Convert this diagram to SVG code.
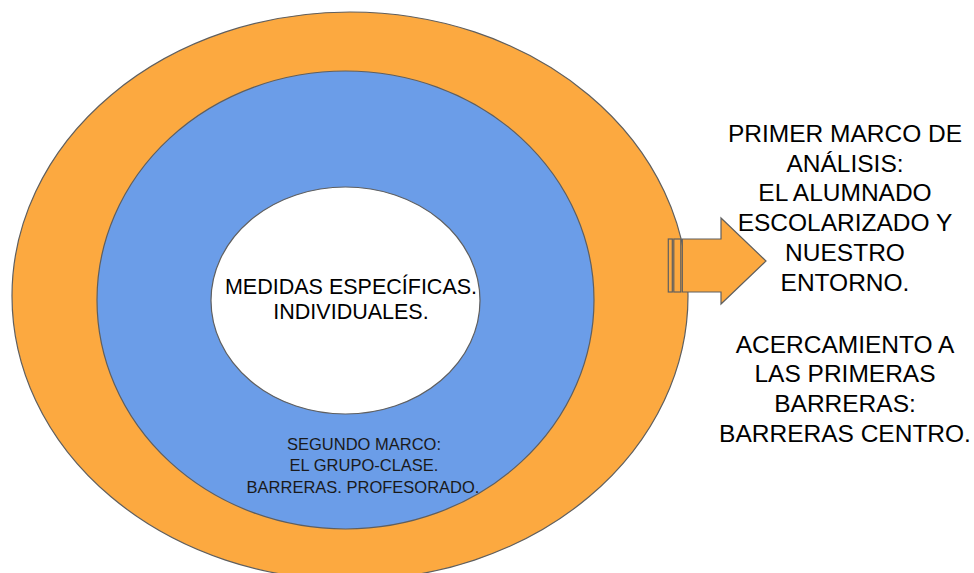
<svg xmlns="http://www.w3.org/2000/svg" width="974" height="573" viewBox="0 0 974 573">
<style>
.shape{stroke:#5f5f5f;stroke-width:1.2}
.orange{fill:#fca940}
.blue{fill:#6b9de8}
.white{fill:#ffffff}
text{font-family:"Liberation Sans",Arial,sans-serif;fill:#000;text-anchor:middle}
.t1{font-size:21.5px}
.t2{font-size:16.5px;fill:#1a1a1a}
.t3{font-size:24.5px}
</style>
<rect width="974" height="573" fill="#ffffff"/>
<g id="outer">
<ellipse class="shape orange" cx="350" cy="296" rx="338" ry="284"/>
</g>
<g id="middle">
<ellipse class="shape blue" cx="345.5" cy="300" rx="248.5" ry="229"/>
<text class="t2" x="364" y="450">SEGUNDO MARCO:</text>
<text class="t2" x="364" y="471">EL GRUPO-CLASE.</text>
<text class="t2" x="363" y="493">BARRERAS. PROFESORADO.</text>
</g>
<g id="inner">
<ellipse class="shape white" cx="345.5" cy="300.5" rx="134.5" ry="113.5"/>
<text class="t1" x="351" y="294">MEDIDAS ESPECÍFICAS.</text>
<text class="t1" x="351" y="319">INDIVIDUALES.</text>
</g>
<g id="connectors">
<g id="arrow" class="shape orange">
<rect x="668.3" y="239" width="4" height="53"/>
<rect x="673.8" y="239" width="7" height="53"/>
<polygon points="682.3,239 721,239 721,218 766,261 721,304 721,292 682.3,292"/>
</g>
</g>
<g id="label">
<text class="t3" x="845" y="142">PRIMER MARCO DE</text>
<text class="t3" x="845" y="172">ANÁLISIS:</text>
<text class="t3" x="845" y="201">EL ALUMNADO</text>
<text class="t3" x="845" y="231">ESCOLARIZADO Y</text>
<text class="t3" x="845" y="261">NUESTRO</text>
<text class="t3" x="845" y="291">ENTORNO.</text>
<text class="t3" x="845" y="353">ACERCAMIENTO A</text>
<text class="t3" x="845" y="382">LAS PRIMERAS</text>
<text class="t3" x="845" y="412">BARRERAS:</text>
<text class="t3" x="845" y="442">BARRERAS CENTRO.</text>
</g>
</svg>
